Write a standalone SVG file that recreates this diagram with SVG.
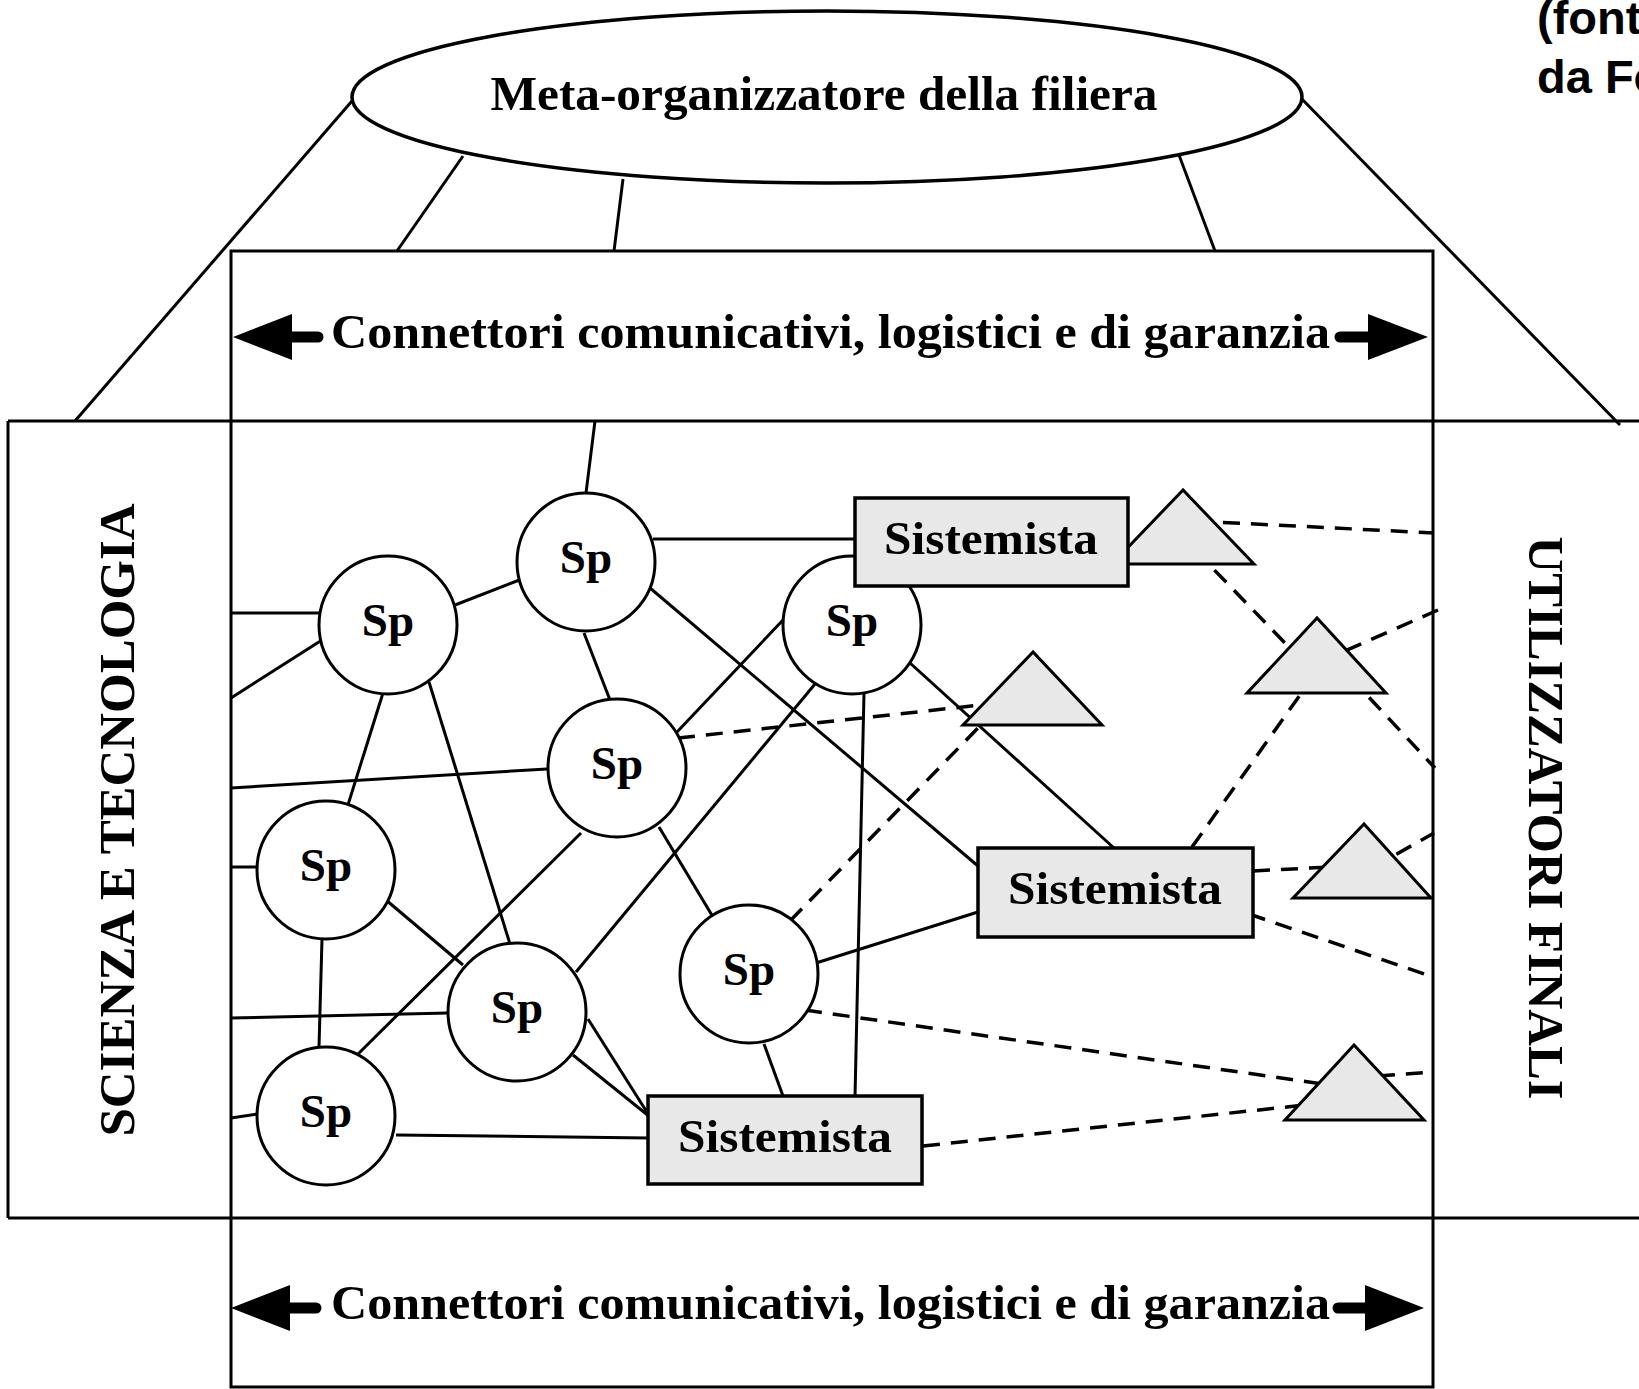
<svg xmlns="http://www.w3.org/2000/svg" width="1639" height="1389" viewBox="0 0 1639 1389">
  <style>
    .frame { fill: none; stroke: #000; stroke-width: 3; }
    .ln { stroke: #000; stroke-width: 3; fill: none; }
    .dash { stroke: #000; stroke-width: 3.5; fill: none; stroke-dasharray: 17 11; }
    .sp { fill: #fff; stroke: #000; stroke-width: 3; }
    .sys { fill: #e8e8e8; stroke: #000; stroke-width: 3.5; }
    .tri { fill: #e8e8e8; stroke: #000; stroke-width: 3; stroke-linejoin: miter; }
    .serif { font-family: "Liberation Serif", "Times New Roman", serif; font-weight: bold; fill: #000; }
    .lbl { font-size: 47px; text-anchor: middle; }
    .band { font-size: 48px; }
    .note { font-family: "Liberation Sans", Arial, sans-serif; font-weight: bold; font-size: 47px; fill: #000; }
    .arr { fill: #000; }
    .shaft { stroke: #000; stroke-width: 11; stroke-linecap: round; }
  </style>

  <rect width="1639" height="1389" fill="#fff"/>

  <!-- corner note, runs off the right edge -->
  <text class="note" x="1537" y="34">(font</text>
  <text class="note" x="1537" y="93">da Fo</text>

  <!-- outer structure: bands and side panels -->
  <g id="frame">
    <line class="ln" x1="352" y1="101" x2="75" y2="421"/>
    <line class="ln" x1="1299" y1="96" x2="1620" y2="425"/>
    <line class="ln" x1="463" y1="156" x2="397" y2="251"/>
    <line class="ln" x1="623" y1="179" x2="614" y2="251"/>
    <line class="ln" x1="1179" y1="155" x2="1215" y2="251"/>
    <rect class="frame" x="231" y="251" width="1202" height="1136"/>
    <line class="frame" x1="8" y1="421" x2="1639" y2="421"/>
    <line class="frame" x1="8" y1="1218" x2="1639" y2="1218"/>
    <line class="frame" x1="8" y1="421" x2="8" y2="1218"/>
  </g>

  <g id="meta-organizzatore">
    <ellipse cx="827" cy="97" rx="475" ry="86" fill="#fff" stroke="#000" stroke-width="3.5"/>
    <text class="serif band" x="824" y="110" text-anchor="middle" textLength="667" lengthAdjust="spacingAndGlyphs">Meta-organizzatore della filiera</text>
  </g>

  <g id="connettori-top">
    <polygon class="arr" points="233,337 292,314 292,360"/>
    <line class="shaft" x1="290" y1="337" x2="318" y2="337"/>
    <polygon class="arr" points="1428,337 1368,314 1368,360"/>
    <line class="shaft" x1="1340" y1="337" x2="1370" y2="337"/>
    <text class="serif band" x="331" y="348" textLength="999" lengthAdjust="spacingAndGlyphs">Connettori comunicativi, logistici e di garanzia</text>
  </g>

  <g id="connettori-bottom">
    <polygon class="arr" points="231,1308 290,1285 290,1331"/>
    <line class="shaft" x1="288" y1="1308" x2="316" y2="1308"/>
    <polygon class="arr" points="1424,1308 1365,1285 1365,1331"/>
    <line class="shaft" x1="1338" y1="1308" x2="1367" y2="1308"/>
    <text class="serif band" x="331" y="1319" textLength="999" lengthAdjust="spacingAndGlyphs">Connettori comunicativi, logistici e di garanzia</text>
  </g>

  <g id="scienza-tecnologia">
    <text class="serif" font-size="50" text-anchor="middle" transform="translate(134,820) rotate(-90)" textLength="633" lengthAdjust="spacingAndGlyphs">SCIENZA E TECNOLOGIA</text>
  </g>

  <g id="utilizzatori-finali">
    <text class="serif" font-size="50" text-anchor="middle" transform="translate(1529,818) rotate(90)" textLength="563" lengthAdjust="spacingAndGlyphs">UTILIZZATORI FINALI</text>
  </g>

  <!-- links between producers, system integrators and end users -->
  <g id="connectors">
    <line class="ln" x1="595" y1="421" x2="586" y2="493"/>
    <line class="ln" x1="231" y1="613" x2="319" y2="613"/>
    <line class="ln" x1="231" y1="698" x2="322" y2="640"/>
    <line class="ln" x1="455" y1="605" x2="522" y2="579"/>
    <line class="ln" x1="653" y1="539" x2="855" y2="539"/>
    <line class="ln" x1="650" y1="588" x2="978" y2="866"/>
    <line class="ln" x1="584" y1="633" x2="610" y2="700"/>
    <line class="ln" x1="383" y1="693" x2="347" y2="808"/>
    <line class="ln" x1="429" y1="682" x2="510" y2="944"/>
    <line class="ln" x1="231" y1="788" x2="547" y2="769"/>
    <line class="ln" x1="677" y1="732" x2="783" y2="620"/>
    <line class="ln" x1="581" y1="833" x2="355" y2="1057"/>
    <line class="ln" x1="659" y1="827" x2="713" y2="917"/>
    <line class="ln" x1="815" y1="684" x2="576" y2="972"/>
    <line class="ln" x1="864" y1="693" x2="855" y2="1097"/>
    <line class="ln" x1="910" y1="663" x2="1114" y2="848"/>
    <line class="ln" x1="231" y1="867" x2="256" y2="867"/>
    <line class="ln" x1="386" y1="900" x2="463" y2="965"/>
    <line class="ln" x1="322" y1="939" x2="319" y2="1047"/>
    <line class="ln" x1="231" y1="1018" x2="448" y2="1013"/>
    <line class="ln" x1="231" y1="1118" x2="257" y2="1114"/>
    <line class="ln" x1="396" y1="1135" x2="648" y2="1138"/>
    <line class="ln" x1="573" y1="1055" x2="650" y2="1117"/>
    <line class="ln" x1="588" y1="1019" x2="650" y2="1117"/>
    <line class="ln" x1="816" y1="963" x2="978" y2="912"/>
    <line class="ln" x1="764" y1="1044" x2="783" y2="1096"/>

    <line class="dash" x1="678" y1="738" x2="990" y2="704"/>
    <line class="dash" x1="790" y1="921" x2="978" y2="728"/>
    <line class="dash" x1="805" y1="1010" x2="1330" y2="1085"/>
    <line class="dash" x1="923" y1="1146" x2="1305" y2="1105"/>
    <line class="dash" x1="1350" y1="1078" x2="1433" y2="1072"/>
    <line class="dash" x1="1253" y1="871" x2="1330" y2="867"/>
    <line class="dash" x1="1372" y1="868" x2="1434" y2="833"/>
    <line class="dash" x1="1249" y1="914" x2="1433" y2="977"/>
    <line class="dash" x1="1192" y1="847" x2="1300" y2="695"/>
    <line class="dash" x1="1195" y1="550" x2="1285" y2="643"/>
    <line class="dash" x1="1350" y1="677" x2="1435" y2="768"/>
    <line class="dash" x1="1195" y1="521" x2="1434" y2="533"/>
    <line class="dash" x1="1320" y1="662" x2="1438" y2="610"/>
  </g>

  <!-- end-user products -->
  <g id="prodotto-1"><polygon class="tri" points="1183,490 1112,564 1254,564"/></g>
  <g id="prodotto-2"><polygon class="tri" points="1317,618 1247,693 1386,693"/></g>
  <g id="prodotto-3"><polygon class="tri" points="1033,652 963,725 1102,725"/></g>
  <g id="prodotto-4"><polygon class="tri" points="1364,824 1293,898 1431,898"/></g>
  <g id="prodotto-5"><polygon class="tri" points="1354,1045 1285,1120 1424,1120"/></g>

  <!-- specialised producers -->
  <g id="sp-1"><circle class="sp" cx="388" cy="625" r="69"/><text class="serif lbl" x="388" y="636">Sp</text></g>
  <g id="sp-2"><circle class="sp" cx="586" cy="562" r="69"/><text class="serif lbl" x="586" y="573">Sp</text></g>
  <g id="sp-3"><circle class="sp" cx="852" cy="625" r="69"/><text class="serif lbl" x="852" y="636">Sp</text></g>
  <g id="sp-4"><circle class="sp" cx="617" cy="768" r="69"/><text class="serif lbl" x="617" y="779">Sp</text></g>
  <g id="sp-5"><circle class="sp" cx="326" cy="870" r="69"/><text class="serif lbl" x="326" y="881">Sp</text></g>
  <g id="sp-6"><circle class="sp" cx="517" cy="1012" r="69"/><text class="serif lbl" x="517" y="1023">Sp</text></g>
  <g id="sp-7"><circle class="sp" cx="749" cy="974" r="69"/><text class="serif lbl" x="749" y="985">Sp</text></g>
  <g id="sp-8"><circle class="sp" cx="326" cy="1116" r="69"/><text class="serif lbl" x="326" y="1127">Sp</text></g>

  <!-- system integrators -->
  <g id="sistemista-1"><rect class="sys" x="855" y="498" width="273" height="88"/><text class="serif lbl" x="991" y="554" textLength="214" lengthAdjust="spacingAndGlyphs">Sistemista</text></g>
  <g id="sistemista-2"><rect class="sys" x="978" y="848" width="275" height="89"/><text class="serif lbl" x="1115" y="904" textLength="214" lengthAdjust="spacingAndGlyphs">Sistemista</text></g>
  <g id="sistemista-3"><rect class="sys" x="648" y="1096" width="274" height="88"/><text class="serif lbl" x="785" y="1152" textLength="214" lengthAdjust="spacingAndGlyphs">Sistemista</text></g>
</svg>
